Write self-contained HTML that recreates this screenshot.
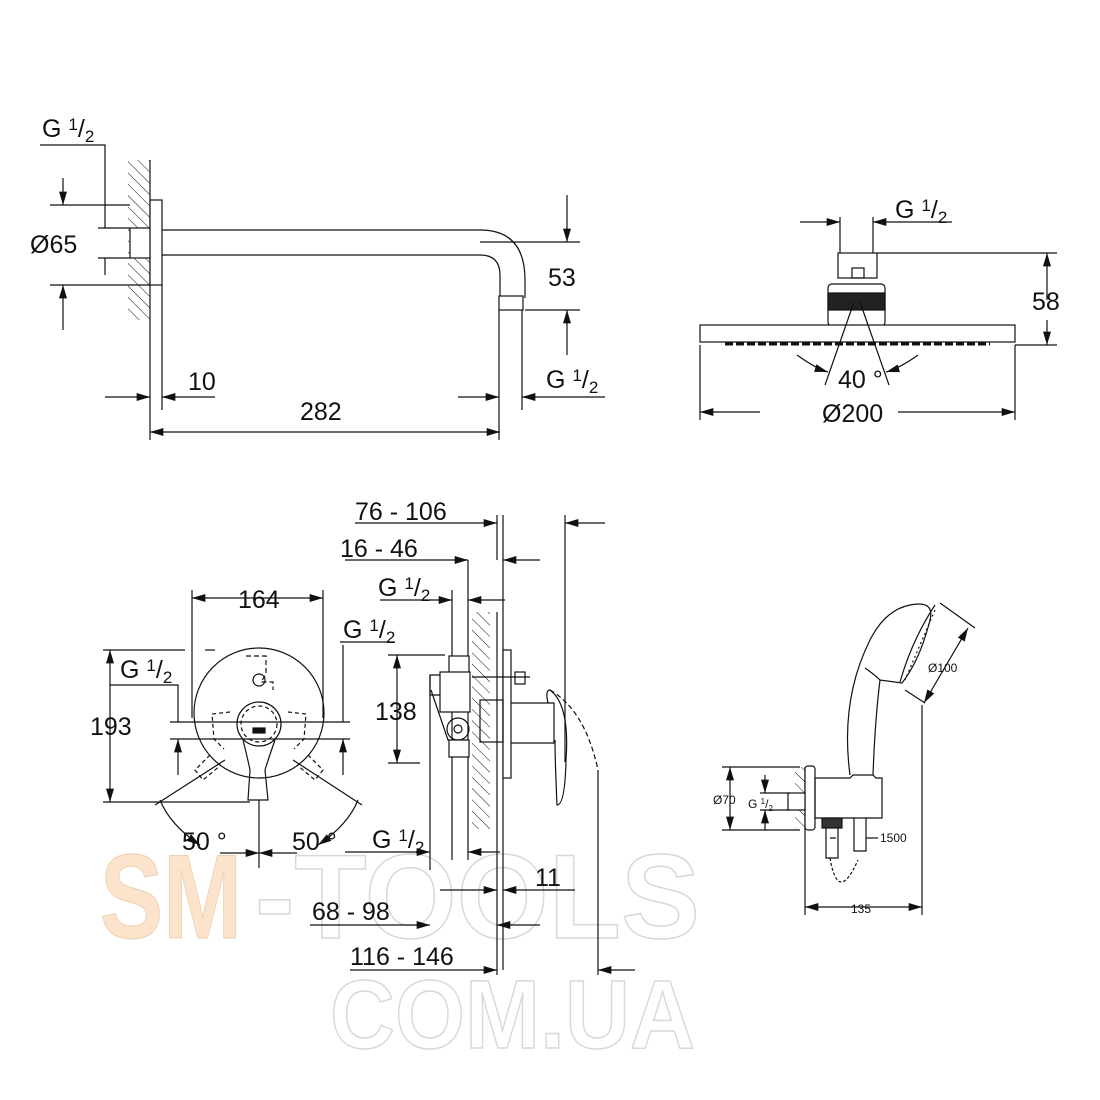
<!DOCTYPE html>
<html><head><style>body{margin:0;background:#fff}svg{display:block}text{font-family:"Liberation Sans",sans-serif}</style></head>
<body>
<svg width="1100" height="1100" viewBox="0 0 1100 1100" xmlns="http://www.w3.org/2000/svg">
<defs>
<marker id="a" viewBox="0 0 10 6" refX="10" refY="3" markerWidth="14" markerHeight="8" orient="auto-start-reverse" markerUnits="userSpaceOnUse"><path d="M0,0L10,3L0,6z" fill="#111"/></marker>
<pattern id="h" width="8" height="8" patternUnits="userSpaceOnUse" patternTransform="rotate(-45)"><line x1="0" y1="0" x2="0" y2="8" stroke="#111" stroke-width="1"/></pattern>
</defs>
<!-- watermark -->
<g font-family="Liberation Sans" font-weight="bold">
<text x="100" y="938" font-size="120" style="fill:#fbe3cc;stroke:#ecd0b0;stroke-width:1" textLength="142" lengthAdjust="spacingAndGlyphs">SM</text>
<text x="255" y="938" font-size="120" style="fill:none;stroke:#d8d8d8;stroke-width:1.5" textLength="445" lengthAdjust="spacingAndGlyphs">-TOOLS</text>
<text x="330" y="1048" font-size="97" style="fill:none;stroke:#d8d8d8;stroke-width:1.5" textLength="365" lengthAdjust="spacingAndGlyphs">COM.UA</text>
</g>
<g stroke="#111" stroke-width="1.2" fill="none">
<!-- TOP LEFT -->
<rect x="128" y="160" width="22" height="160" fill="url(#h)" stroke="none"/>
<line x1="150" y1="160" x2="150" y2="440"/>
<rect x="150" y="200" width="12" height="85" fill="#fff"/>
<rect x="130" y="228" width="20" height="30" fill="#fff"/>
<path d="M162,230H480Q525,230 525,280V298M162,255H480Q500,255 500,275V298"/>
<rect x="499" y="296" width="24" height="14" fill="#fff"/>
<path d="M40,145H105V228"/>
<line x1="63" y1="178" x2="63" y2="205" marker-end="url(#a)"/>
<line x1="50" y1="205" x2="130" y2="205"/>
<line x1="98" y1="228" x2="130" y2="228"/><line x1="98" y1="258" x2="130" y2="258"/>
<line x1="105" y1="258" x2="105" y2="275"/>
<line x1="50" y1="285" x2="150" y2="285"/>
<line x1="63" y1="330" x2="63" y2="285" marker-end="url(#a)"/>
<line x1="162" y1="285" x2="162" y2="410"/>
<line x1="105" y1="397" x2="150" y2="397" marker-end="url(#a)"/>
<line x1="215" y1="397" x2="162" y2="397" marker-end="url(#a)"/>
<line x1="150" y1="432" x2="500" y2="432" marker-start="url(#a)" marker-end="url(#a)"/>
<line x1="499" y1="310" x2="499" y2="440"/><line x1="522" y1="310" x2="522" y2="410"/>
<line x1="458" y1="397" x2="499" y2="397" marker-end="url(#a)"/>
<line x1="605" y1="397" x2="522" y2="397" marker-end="url(#a)"/>
<line x1="480" y1="242" x2="580" y2="242"/><line x1="525" y1="310" x2="580" y2="310"/>
<line x1="567" y1="195" x2="567" y2="242" marker-end="url(#a)"/>
<line x1="567" y1="355" x2="567" y2="310" marker-end="url(#a)"/>
<!-- TOP RIGHT -->
<line x1="840" y1="217" x2="840" y2="253"/><line x1="873" y1="217" x2="873" y2="253"/>
<line x1="800" y1="222" x2="840" y2="222" marker-end="url(#a)"/>
<line x1="952" y1="222" x2="873" y2="222" marker-end="url(#a)"/>
<rect x="838" y="253" width="39" height="25" fill="#fff"/>
<rect x="852" y="268" width="12" height="10"/>
<rect x="828" y="284" width="57" height="42" rx="4" fill="#fff"/>
<rect x="828" y="293" width="57" height="17" fill="#222"/>
<rect x="700" y="325" width="315" height="17" fill="#fff"/>
<line x1="725" y1="344" x2="990" y2="344" stroke-width="3" stroke-dasharray="8,3"/>
<line x1="877" y1="253" x2="1057" y2="253"/><line x1="1015" y1="345" x2="1057" y2="345"/>
<line x1="1047" y1="300" x2="1047" y2="253" marker-end="url(#a)"/>
<line x1="1047" y1="320" x2="1047" y2="345" marker-end="url(#a)"/>
<line x1="854" y1="302" x2="825" y2="385"/><line x1="860" y1="302" x2="889" y2="385"/>
<path d="M797,355Q815,368 828,372" marker-end="url(#a)"/>
<path d="M918,355Q900,368 886,372" marker-end="url(#a)"/>
<line x1="700" y1="345" x2="700" y2="420"/><line x1="1015" y1="345" x2="1015" y2="420"/>
<line x1="760" y1="412" x2="700" y2="412" marker-end="url(#a)"/>
<line x1="898" y1="412" x2="1015" y2="412" marker-end="url(#a)"/>
<!-- BOTTOM LEFT MIXER -->
<circle cx="259" cy="713" r="65"/>
<line x1="192" y1="590" x2="192" y2="718"/><line x1="323" y1="590" x2="323" y2="718"/>
<line x1="192" y1="598" x2="323" y2="598" marker-start="url(#a)" marker-end="url(#a)"/>
<line x1="103" y1="650" x2="185" y2="650"/><line x1="205" y1="650" x2="215" y2="650"/>
<line x1="103" y1="802" x2="250" y2="802"/>
<line x1="110" y1="650" x2="110" y2="802" marker-start="url(#a)" marker-end="url(#a)"/>
<line x1="170" y1="722" x2="350" y2="722"/><line x1="170" y1="739" x2="350" y2="739"/>
<path d="M110,685H178V722"/><line x1="178" y1="739" x2="178" y2="775" marker-start="url(#a)"/>
<path d="M343,645V722"/><line x1="343" y1="739" x2="343" y2="775" marker-start="url(#a)"/>
<path d="M246,656h20v18l-5,8 12,0v8" stroke-dasharray="5,3"/>
<circle cx="259" cy="680" r="6"/>
<circle cx="259" cy="724" r="22"/>
<circle cx="259" cy="724" r="18" stroke-dasharray="4,3"/>
<path d="M243,740Q248,760 250,770L248,800H268L265,770Q268,760 275,740"/>
<rect x="253" y="728" width="12" height="5" fill="#111"/>
<path d="M230,712l-18,2l2,25l10,10M288,712l18,2l-2,25l-10,10" stroke-dasharray="4,3"/>
<path d="M210,755l-15,15l8,10l18,-15M308,755l15,15l-8,10l-18,-15" stroke-dasharray="4,3"/>
<line x1="225" y1="760" x2="155" y2="805"/><line x1="293" y1="760" x2="362" y2="805"/>
<path d="M160,800Q170,825 200,845" marker-end="url(#a)" />
<path d="M358,800Q348,825 318,845" marker-end="url(#a)"/>
<line x1="259" y1="800" x2="259" y2="868"/>
<line x1="220" y1="853" x2="259" y2="853" marker-end="url(#a)"/>
<line x1="297" y1="853" x2="259" y2="853" marker-end="url(#a)"/>
<!-- MIDDLE SECTION -->
<rect x="472" y="612" width="18" height="217" fill="url(#h)" stroke="none"/>
<line x1="497" y1="612" x2="497" y2="830"/>
<line x1="430" y1="675" x2="430" y2="870"/>
<line x1="452" y1="590" x2="452" y2="860"/>
<line x1="468" y1="560" x2="468" y2="860"/>
<line x1="497" y1="515" x2="497" y2="560"/><line x1="503" y1="515" x2="503" y2="970"/>
<line x1="497" y1="830" x2="497" y2="975"/>
<line x1="565" y1="515" x2="565" y2="762"/>
<line x1="598" y1="770" x2="598" y2="975"/>
<line x1="355" y1="523" x2="497" y2="523" marker-end="url(#a)"/>
<line x1="605" y1="523" x2="565" y2="523" marker-end="url(#a)"/>
<line x1="345" y1="560" x2="468" y2="560" marker-end="url(#a)"/>
<line x1="540" y1="560" x2="503" y2="560" marker-end="url(#a)"/>
<line x1="380" y1="600" x2="452" y2="600" marker-end="url(#a)"/>
<line x1="505" y1="600" x2="468" y2="600" marker-end="url(#a)"/>
<line x1="340" y1="642" x2="395" y2="642"/>
<line x1="388" y1="655" x2="445" y2="655"/><line x1="388" y1="763" x2="420" y2="763"/>
<line x1="397" y1="655" x2="397" y2="763" marker-start="url(#a)" marker-end="url(#a)"/>
<rect x="449" y="656" width="20" height="30" fill="#fff"/>
<path d="M430,675h12v20l-12,0zM431,690l17,50h20"/>
<rect x="440" y="672" width="30" height="40" fill="#fff"/>
<circle cx="458" cy="729" r="11"/><circle cx="458" cy="729" r="4"/>
<rect x="449" y="740" width="20" height="17" fill="#fff"/>
<rect x="503" y="650" width="8" height="128" fill="#fff"/>
<line x1="472" y1="677" x2="530" y2="677"/><rect x="515" y="672" width="10" height="12"/>
<rect x="480" y="700" width="23" height="42"/>
<path d="M511,703h43v40h-43M548,703Q545,690 550,690Q570,705 566,760Q565,805 557,805Q555,760 555,740"/>
<path d="M550,690Q585,710 598,770" stroke-dasharray="5,3"/>
<line x1="345" y1="852" x2="430" y2="852" marker-end="url(#a)"/>
<line x1="500" y1="852" x2="468" y2="852" marker-end="url(#a)"/>
<line x1="440" y1="890" x2="497" y2="890" marker-end="url(#a)"/>
<line x1="575" y1="890" x2="503" y2="890" marker-end="url(#a)"/>
<line x1="310" y1="925" x2="430" y2="925" marker-end="url(#a)"/>
<line x1="540" y1="925" x2="497" y2="925" marker-end="url(#a)"/>
<line x1="350" y1="970" x2="497" y2="970" marker-end="url(#a)"/>
<line x1="635" y1="970" x2="598" y2="970" marker-end="url(#a)"/>
<!-- HAND SHOWER -->
<rect x="795" y="767" width="10" height="62" fill="url(#h)" stroke="none"/>
<line x1="805" y1="767" x2="805" y2="915"/>
<rect x="805" y="766" width="10" height="64" rx="3" fill="#fff"/>
<rect x="788" y="793" width="17" height="17" fill="#fff"/>
<path d="M815,778H850l3,-3h20l3,3h6V818H815z"/>
<rect x="822" y="818" width="20" height="10" fill="#333"/>
<path d="M826,828v30h12v-30M830,838h6M854,818v33h12v-33"/>
<path d="M830,858Q838,905 858,860" stroke-dasharray="3,2"/>
<path d="M850,775Q840,700 870,640Q885,610 910,605Q935,600 930,620Q920,660 902,683L880,680Q875,720 873,775"/>
<path d="M935,605Q912,640 900,682" />
<path d="M935,610l-30,70" stroke-dasharray="2,3"/>
<path d="M865,668Q875,675 880,680"/>
<line x1="940" y1="603" x2="975" y2="628"/><line x1="905" y1="690" x2="925" y2="703"/>
<line x1="968" y1="628" x2="924" y2="703" marker-start="url(#a)" marker-end="url(#a)"/>
<line x1="922" y1="705" x2="922" y2="915"/>
<line x1="805" y1="907" x2="922" y2="907" marker-start="url(#a)" marker-end="url(#a)"/>
<line x1="722" y1="767" x2="800" y2="767"/><line x1="722" y1="830" x2="800" y2="830"/>
<line x1="730" y1="767" x2="730" y2="830" marker-start="url(#a)" marker-end="url(#a)"/>
<line x1="760" y1="793" x2="790" y2="793"/><line x1="760" y1="810" x2="790" y2="810"/>
<line x1="765" y1="775" x2="765" y2="793" marker-end="url(#a)"/>
<line x1="765" y1="830" x2="765" y2="810" marker-end="url(#a)"/>
<line x1="866" y1="838" x2="878" y2="838"/>
</g>
<g font-size="25" fill="#111">
<text x="42" y="137">G <tspan font-size="17" dy="-7">1</tspan><tspan dy="7">/</tspan><tspan font-size="17" dy="5">2</tspan></text>
<text x="30" y="253">Ø65</text>
<text x="188" y="390">10</text>
<text x="300" y="420">282</text>
<text x="548" y="286">53</text>
<text x="546" y="388">G <tspan font-size="17" dy="-7">1</tspan><tspan dy="7">/</tspan><tspan font-size="17" dy="5">2</tspan></text>
<text x="895" y="218">G <tspan font-size="17" dy="-7">1</tspan><tspan dy="7">/</tspan><tspan font-size="17" dy="5">2</tspan></text>
<text x="1032" y="310">58</text>
<text x="838" y="388">40 °</text>
<text x="822" y="422">Ø200</text>
<text x="355" y="520">76 - 106</text>
<text x="340" y="557">16 - 46</text>
<text x="378" y="596">G <tspan font-size="17" dy="-7">1</tspan><tspan dy="7">/</tspan><tspan font-size="17" dy="5">2</tspan></text>
<text x="238" y="608">164</text>
<text x="343" y="638">G <tspan font-size="17" dy="-7">1</tspan><tspan dy="7">/</tspan><tspan font-size="17" dy="5">2</tspan></text>
<text x="120" y="678">G <tspan font-size="17" dy="-7">1</tspan><tspan dy="7">/</tspan><tspan font-size="17" dy="5">2</tspan></text>
<text x="90" y="735">193</text>
<text x="375" y="720">138</text>
<text x="182" y="850">50 °</text>
<text x="292" y="850">50 °</text>
<text x="372" y="848">G <tspan font-size="17" dy="-7">1</tspan><tspan dy="7">/</tspan><tspan font-size="17" dy="5">2</tspan></text>
<text x="535" y="886">11</text>
<text x="312" y="920">68 - 98</text>
<text x="350" y="965">116 - 146</text>
</g>
<g font-size="12" fill="#111">
<text x="928" y="672">Ø100</text>
<text x="713" y="804">Ø70</text>
<text x="748" y="808">G <tspan font-size="8" dy="-4">1</tspan><tspan dy="4">/</tspan><tspan font-size="8" dy="3">2</tspan></text>
<text x="880" y="842">1500</text>
<text x="851" y="913">135</text>
</g>
</svg>
</body></html>
